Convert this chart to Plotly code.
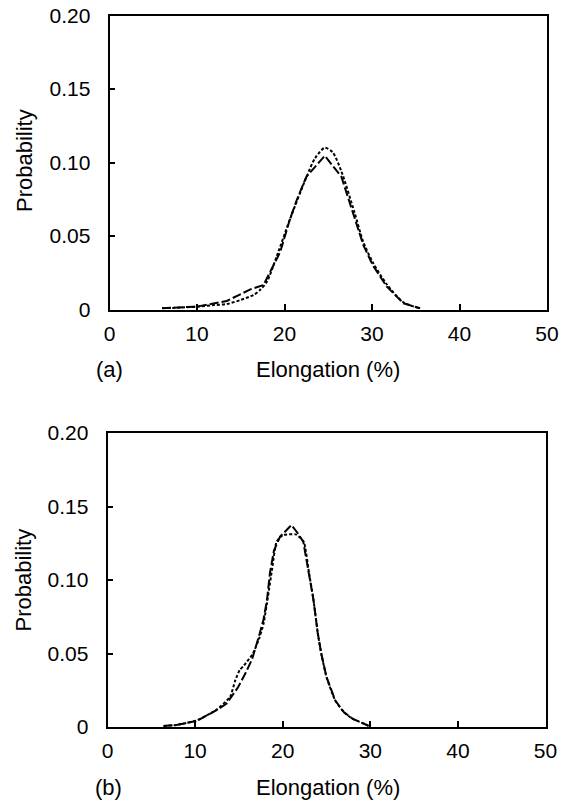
import plotly.graph_objects as go

# ---- data ----
# (a) top panel
a_dash_x = [6.0, 10.0, 13.4, 16.1, 17.6, 19.5, 20.6, 21.4, 22.5, 24.6, 26.5, 27.9, 29.0, 30.1, 31.7, 33.6, 35.5]
a_dash_y = [0.0008, 0.002, 0.0058, 0.0137, 0.0167, 0.039, 0.061, 0.0745, 0.0903, 0.1046, 0.0903, 0.065, 0.044, 0.030, 0.0155, 0.0042, 0.0008]
a_dot_x = [6.0, 10.0, 12.0, 13.4, 15.0, 16.5, 17.2, 18.0, 19.1, 20.6, 22.5, 23.5, 24.6, 25.5, 26.5, 28.0, 29.0, 30.1, 31.7, 33.6, 35.5]
a_dot_y = [0.0008, 0.0019, 0.003, 0.0037, 0.0065, 0.010, 0.0133, 0.019, 0.036, 0.061, 0.090, 0.103, 0.110, 0.107, 0.094, 0.066, 0.046, 0.032, 0.017, 0.0048, 0.0008]

# (b) bottom panel
b_dash_x = [6.4, 8.0, 10.2, 12.5, 13.6, 14.9, 15.7, 16.5, 17.3, 17.8, 18.2, 18.55, 19.0, 19.7, 21.0, 21.7, 22.35, 23.0, 23.5, 24.0, 24.4, 25.0, 26.0, 27.0, 28.0, 29.0, 29.8]
b_dash_y = [0.0007, 0.0015, 0.0042, 0.0116, 0.016, 0.027, 0.036, 0.046, 0.062, 0.073, 0.086, 0.105, 0.120, 0.1295, 0.1374, 0.132, 0.126, 0.105, 0.087, 0.064, 0.050, 0.034, 0.018, 0.010, 0.0055, 0.003, 0.0008]
b_dot_x = [6.4, 8.0, 10.2, 12.5, 14.0, 14.6, 15.1, 15.6, 16.6, 17.3, 17.8, 18.3, 18.8, 19.3, 20.0, 21.5, 22.4, 23.0, 23.5, 24.0, 24.4, 25.0, 26.0, 27.0, 28.0, 29.0, 29.8]
b_dot_y = [0.0007, 0.0015, 0.0045, 0.012, 0.0206, 0.032, 0.0388, 0.042, 0.050, 0.060, 0.070, 0.088, 0.108, 0.126, 0.1305, 0.131, 0.126, 0.105, 0.087, 0.064, 0.050, 0.034, 0.018, 0.010, 0.0055, 0.003, 0.0008]

x_ticks = [0, 10, 20, 30, 40, 50]
y_ticks = [0, 0.05, 0.10, 0.15, 0.20]
y_ticktext = ["0", "0.05", "0.10", "0.15", "0.20"]
panel_labels = ["(a)", "(b)"]
x_title = "Elongation (%)"
y_title = "Probability"

# ---- layout ----
W, H = 574, 801
FONT = "Liberation Sans, Arial, Helvetica, sans-serif"


def fx(px):
    return px / W


def fy(py):
    return 1 - py / H


DASH = "9px,3px"
DOT = "3px,2px"
LW = 2

fig = go.Figure()
fig.add_trace(go.Scatter(x=a_dash_x, y=a_dash_y, mode="lines", xaxis="x", yaxis="y",
                         line=dict(color="black", width=LW, dash=DASH), showlegend=False))
fig.add_trace(go.Scatter(x=a_dot_x, y=a_dot_y, mode="lines", xaxis="x", yaxis="y",
                         line=dict(color="black", width=LW, dash=DOT, shape="spline", smoothing=0.7),
                         showlegend=False))
fig.add_trace(go.Scatter(x=b_dash_x, y=b_dash_y, mode="lines", xaxis="x2", yaxis="y2",
                         line=dict(color="black", width=LW, dash=DASH), showlegend=False))
fig.add_trace(go.Scatter(x=b_dot_x, y=b_dot_y, mode="lines", xaxis="x2", yaxis="y2",
                         line=dict(color="black", width=LW, dash=DOT, shape="spline", smoothing=0.5),
                         showlegend=False))

axis_common = dict(showline=True, linecolor="black", linewidth=1.8, mirror=True,
                   ticks="inside", ticklen=6, tickwidth=1.5, tickcolor="black",
                   showgrid=False, zeroline=False, automargin=False,
                   tickfont=dict(family=FONT, size=21, color="black"))

fig.update_layout(
    template="none",
    width=W, height=H,
    margin=dict(l=0, r=0, t=0, b=0, autoexpand=False),
    paper_bgcolor="white", plot_bgcolor="white",
    showlegend=False,
    xaxis=dict(domain=[fx(109.5), fx(547)], range=[0, 50], tickvals=x_ticks,
               anchor="y", ticklabelstandoff=4, **axis_common),
    yaxis=dict(domain=[fy(309.5), fy(15.5)], range=[0, 0.2], tickvals=y_ticks, ticktext=y_ticktext,
               anchor="x", ticklabelstandoff=13, **axis_common),
    xaxis2=dict(domain=[fx(107.5), fx(545.5)], range=[0, 50], tickvals=x_ticks,
                anchor="y2", ticklabelstandoff=4, **axis_common),
    yaxis2=dict(domain=[fy(727), fy(433)], range=[0, 0.2], tickvals=y_ticks, ticktext=y_ticktext,
                anchor="x2", ticklabelstandoff=13, **axis_common),
)

ann_font = dict(family=FONT, size=22, color="black")
anns = [
    (109, 369, panel_labels[0], 0), (328, 369, x_title, 0), (24, 161, y_title, -90),
    (108, 787, panel_labels[1], 0), (327.5, 787, x_title, 0), (22.5, 580, y_title, -90),
]
for px, py, txt, ang in anns:
    fig.add_annotation(x=fx(px), y=fy(py), xref="paper", yref="paper", text=txt,
                       showarrow=False, font=ann_font, textangle=ang,
                       xanchor="center", yanchor="middle")

fig.write_html("out.html")
